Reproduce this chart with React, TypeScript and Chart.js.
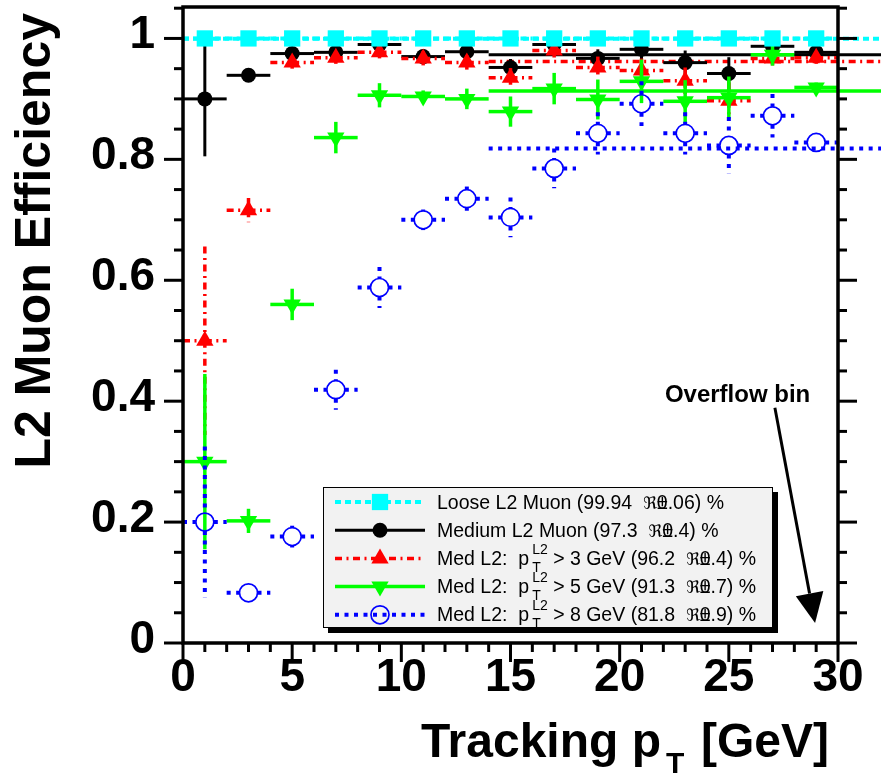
import React, { useEffect, useRef } from 'react';
import { Chart, registerables } from 'chart.js';

Chart.register(...registerables);

const FONT = '"Liberation Sans", Arial, Helvetica, sans-serif';
const SYMFONT = '"DejaVu Sans", "DejaVu Serif", sans-serif';

// ---------------- data ----------------
const binCenters = [1, 3, 5, 7, 9, 11, 13, 15, 17, 19, 21, 23, 25, 27, 29];
const binHalfWidth = 1;

const looseEff = [1.0, 1.0, 1.0, 1.0, 1.0, 1.0, 1.0, 1.0, 1.0, 1.0, 1.0, 1.0, 1.0, 1.0, 1.0];
const looseErr = [0.003, 0.001, 0.001, 0.001, 0.001, 0.001, 0.001, 0.001, 0.001, 0.001, 0.001, 0.001, 0.001, 0.001, 0.001];

const mediumEff = [0.900, 0.939, 0.975, 0.977, 0.990, 0.970, 0.978, 0.952, 0.990, 0.967, 0.982, 0.960, 0.942, 0.987, 0.977];
const mediumErr = [0.095, 0.008, 0.008, 0.010, 0.010, 0.012, 0.012, 0.014, 0.015, 0.015, 0.018, 0.020, 0.027, 0.015, 0.010];

const pt3Eff = [0.500, 0.716, 0.960, 0.968, 0.977, 0.967, 0.960, 0.935, 0.980, 0.952, 0.947, 0.930, 0.897, 0.967, 0.968];
const pt3Err = [0.156, 0.020, 0.010, 0.010, 0.010, 0.012, 0.012, 0.016, 0.015, 0.018, 0.020, 0.022, 0.030, 0.015, 0.010];

const pt5Eff = [0.300, 0.202, 0.560, 0.836, 0.906, 0.904, 0.900, 0.879, 0.917, 0.899, 0.929, 0.896, 0.902, 0.973, 0.919];
const pt5Err = [0.145, 0.020, 0.026, 0.026, 0.020, 0.010, 0.017, 0.025, 0.026, 0.033, 0.036, 0.035, 0.035, 0.018, 0.008];

const pt8Eff = [0.200, 0.083, 0.176, 0.419, 0.588, 0.700, 0.735, 0.704, 0.785, 0.843, 0.892, 0.843, 0.823, 0.872, 0.828];
const pt8Err = [0.125, 0.008, 0.018, 0.033, 0.034, 0.017, 0.020, 0.033, 0.033, 0.035, 0.037, 0.035, 0.047, 0.036, 0.010];

// constant fits (value, range)
const fitValues = [0.9994, 0.973, 0.962, 0.913, 0.818];
const fitFrom = [0, 14, 14, 14, 14];
const fitTo = [32, 32, 32, 32, 32];

const xTickValues = [0, 5, 10, 15, 20, 25, 30];
const xTickLabels = ['0', '5', '10', '15', '20', '25', '30'];
const yTickValues = [0, 0.2, 0.4, 0.6, 0.8, 1];
const yTickLabels = ['0', '0.2', '0.4', '0.6', '0.8', '1'];

const xTitleMain = 'Tracking p';
const xTitleSub = 'T';
const xTitleUnit = '[GeV]';
const yTitle = 'L2 Muon Efficiency';

const legendName = ['Loose L2 Muon', 'Medium L2 Muon', 'Med L2:  p', 'Med L2:  p', 'Med L2:  p'];
const legendCut = ['', '', ' > 3 GeV', ' > 5 GeV', ' > 8 GeV'];
const legendMean = ['99.94', '97.3', '96.2', '91.3', '81.8'];
const legendErr = ['0.06', '0.4', '0.4', '0.7', '0.9'];
const overflowLabel = 'Overflow bin';

// ---------------- styles ----------------
const seriesEff = [looseEff, mediumEff, pt3Eff, pt5Eff, pt8Eff];
const seriesErr = [looseErr, mediumErr, pt3Err, pt5Err, pt8Err];
const styles = [
  { color: '#00ffff', dash: [6, 4], lw: 4, pointStyle: 'rect', radius: 11.5, rotation: 0, filled: true, order: 1 },
  { color: '#000000', dash: [], lw: 3, pointStyle: 'circle', radius: 7.5, rotation: 0, filled: true, order: 5 },
  { color: '#ff0000', dash: [7, 4.5, 2, 4.5], lw: 3.5, pointStyle: 'triangle', radius: 10, rotation: 0, filled: true, order: 4 },
  { color: '#00ff00', dash: [], lw: 3.5, pointStyle: 'triangle', radius: 10, rotation: 180, filled: true, order: 3 },
  { color: '#0000ff', dash: [4, 5.5], lw: 4, pointStyle: 'circle', radius: 9, rotation: 0, filled: false, order: 2 },
];

function seg(ctx: CanvasRenderingContext2D, x0: number, y0: number, x1: number, y1: number) {
  if (Math.hypot(x1 - x0, y1 - y0) < 0.5) return;
  ctx.beginPath();
  ctx.moveTo(x0, y0);
  ctx.lineTo(x1, y1);
  ctx.stroke();
}

function drawMarker(ctx: CanvasRenderingContext2D, k: number, x: number, y: number) {
  const s = styles[k];
  ctx.save();
  ctx.setLineDash([]);
  ctx.fillStyle = s.color;
  ctx.strokeStyle = s.color;
  ctx.beginPath();
  if (s.pointStyle === 'rect') {
    const h = s.radius * Math.SQRT1_2;
    ctx.rect(x - h, y - h, 2 * h, 2 * h);
    ctx.fill();
  } else if (s.pointStyle === 'circle') {
    ctx.arc(x, y, s.radius, 0, Math.PI * 2);
    if (s.filled) ctx.fill();
    else { ctx.lineWidth = 1.7; ctx.stroke(); }
  } else {
    const r = s.radius;
    const sgn = s.rotation === 180 ? -1 : 1;
    ctx.moveTo(x, y - sgn * r);
    ctx.lineTo(x + r * 0.866, y + sgn * r / 2);
    ctx.lineTo(x - r * 0.866, y + sgn * r / 2);
    ctx.closePath();
    ctx.fill();
  }
  ctx.restore();
}

const rootPlugin = {
  id: 'rootStyle',
  beforeDatasetDraw(chart: any, args: any) {
    const ds = chart.data.datasets[args.index];
    if (ds.styleIdx === undefined || ds.isFit) return;
    const k = ds.styleIdx;
    const s = styles[k];
    const xs = chart.scales.x;
    const ys = chart.scales.y;
    const ctx: CanvasRenderingContext2D = chart.ctx;
    ctx.save();
    ctx.strokeStyle = s.color;
    ctx.lineWidth = s.lw;
    ctx.setLineDash(s.dash);
    ctx.lineCap = 'butt';
    const gap = s.filled ? 0 : s.radius;
    binCenters.forEach((c, i) => {
      const v = seriesEff[k][i];
      const e = seriesErr[k][i];
      const px = xs.getPixelForValue(c);
      const py = ys.getPixelForValue(v);
      const x0 = xs.getPixelForValue(c - binHalfWidth);
      const x1 = xs.getPixelForValue(c + binHalfWidth);
      const yT = ys.getPixelForValue(v + e);
      const yB = ys.getPixelForValue(v - e);
      seg(ctx, x0, py, px - gap, py);
      seg(ctx, px + gap, py, x1, py);
      if (py - yT > gap) seg(ctx, px, yT, px, py - gap);
      if (yB - py > gap) seg(ctx, px, py + gap, px, yB);
    });
    ctx.restore();
  },
  afterDraw(chart: any) {
    const ctx: CanvasRenderingContext2D = chart.ctx;
    const xs = chart.scales.x;
    const ys = chart.scales.y;
    const { left, right, top, bottom } = chart.chartArea;
    ctx.save();
    ctx.setLineDash([]);
    ctx.strokeStyle = '#000';
    ctx.fillStyle = '#000';

    // frame
    ctx.lineWidth = 3.5;
    ctx.beginPath();
    ctx.moveTo(left, top);
    ctx.lineTo(right, top);
    ctx.lineTo(right, bottom);
    ctx.lineTo(left, bottom);
    ctx.closePath();
    ctx.stroke();

    // y ticks (left + right, outside)
    ctx.lineWidth = 3;
    for (let k = 0; k <= 21; k++) {
      const v = k * 0.05;
      if (v > ys.max + 1e-9) break;
      const major = k % 4 === 0;
      const len = major ? 19 : 9;
      const py = ys.getPixelForValue(v);
      seg(ctx, left - len, py, left, py);
      seg(ctx, right, py, right + len, py);
    }
    // x ticks (bottom, outside)
    for (let k = 0; k <= 30; k++) {
      const major = k % 5 === 0;
      const len = major ? 19 : 9;
      const px = xs.getPixelForValue(k);
      seg(ctx, px, bottom, px, bottom + len);
    }

    // x title: "Tracking p" ends ~660, subscript T at ~666, "[GeV]" right-aligned at 829
    ctx.textBaseline = 'alphabetic';
    const base = 757;
    ctx.font = `bold 48px ${FONT}`;
    ctx.textAlign = 'right';
    ctx.fillText(xTitleMain, 661, base);
    ctx.fillText(xTitleUnit, 829, base);
    ctx.font = `bold 30px ${FONT}`;
    ctx.textAlign = 'left';
    ctx.fillText(xTitleSub, 666, base + 16);

    // y title
    ctx.save();
    ctx.translate(50, 13);
    ctx.rotate(-Math.PI / 2);
    ctx.font = `bold 50px ${FONT}`;
    ctx.textAlign = 'right';
    ctx.fillText(yTitle, 0, 0);
    ctx.restore();

    // legend
    const LX = 323, LY = 487, LW = 450, LH = 141;
    ctx.fillStyle = '#000';
    ctx.fillRect(LX + 5, LY + 5, LW, LH);
    ctx.fillStyle = '#f2f2f2';
    ctx.fillRect(LX, LY, LW, LH);
    ctx.lineWidth = 1;
    ctx.strokeStyle = '#000';
    ctx.strokeRect(LX + 0.5, LY + 0.5, LW - 1, LH - 1);
    const legMain = `19.5px ${FONT}`;
    const legSmall = `14px ${FONT}`;
    const legSym = `17px ${SYMFONT}`;
    for (let k = 0; k < 5; k++) {
      const s = styles[k];
      const cy = 502 + k * 28.2;
      ctx.save();
      ctx.strokeStyle = s.color;
      ctx.lineWidth = s.lw;
      ctx.setLineDash(s.dash);
      seg(ctx, 335, cy, 425, cy);
      ctx.restore();
      drawMarker(ctx, k, 380, cy);

      ctx.fillStyle = '#000';
      ctx.textAlign = 'left';
      const b = cy + 6.5;
      let x = 437;
      const put = (str: string, font: string, dy = 0) => {
        ctx.font = font;
        ctx.fillText(str, x, b + dy);
        x += ctx.measureText(str).width;
      };
      put(legendName[k], legMain);
      if (legendCut[k]) {
        ctx.font = legSmall;
        const wSup = ctx.measureText('L2').width;
        const wSub = ctx.measureText('T').width;
        ctx.fillText('L2', x + 3, b - 11);
        ctx.fillText('T', x + 3, b + 7);
        x += Math.max(wSup, wSub) + 3;
        put(legendCut[k], legMain);
      }
      put(' (' + legendMean[k] + '  ', legMain);
      put('\u211C', legSym);
      const first = legendErr[k].charAt(0);
      ctx.font = legMain;
      const w0 = ctx.measureText(first).width;
      ctx.fillText(first, x, b);
      const wpm = ctx.measureText('\u00B1').width;
      ctx.fillText('\u00B1', x + (w0 - wpm) / 2, b);
      x += w0;
      put(legendErr[k].slice(1) + ') %', legMain);
    }

    // overflow annotation
    ctx.fillStyle = '#000';
    ctx.strokeStyle = '#000';
    ctx.font = `bold 24px ${FONT}`;
    ctx.textAlign = 'center';
    ctx.textBaseline = 'middle';
    ctx.fillText(overflowLabel, xs.getPixelForValue(25.4), ys.getPixelForValue(0.41));
    const ax0 = xs.getPixelForValue(27.11), ay0 = ys.getPixelForValue(0.389);
    const ax1 = xs.getPixelForValue(28.95), ay1 = ys.getPixelForValue(0.033);
    const ang = Math.atan2(ay1 - ay0, ax1 - ax0);
    const hl = 30, hw = 14;
    const bx = ax1 - hl * Math.cos(ang), by = ay1 - hl * Math.sin(ang);
    ctx.lineWidth = 3;
    seg(ctx, ax0, ay0, bx, by);
    ctx.beginPath();
    ctx.moveTo(ax1, ay1);
    ctx.lineTo(bx + hw * Math.sin(ang), by - hw * Math.cos(ang));
    ctx.lineTo(bx - hw * Math.sin(ang), by + hw * Math.cos(ang));
    ctx.closePath();
    ctx.fill();

    ctx.restore();
  },
};

function labelFor(values: number[], labels: string[], v: number) {
  for (let i = 0; i < values.length; i++) if (Math.abs(values[i] - v) < 1e-6) return labels[i];
  return '';
}

function zeroPad(s: any) {
  s.paddingTop = 0;
  s.paddingBottom = 0;
  s.paddingLeft = 0;
  s.paddingRight = 0;
}

export default function App() {
  const ref = useRef<HTMLCanvasElement>(null);
  useEffect(() => {
    const canvas = ref.current;
    if (!canvas) return;
    const datasets: any[] = [];
    fitValues.forEach((fv, k) => {
      const s = styles[k];
      datasets.push({
        type: 'scatter',
        label: 'fit ' + k,
        isFit: true,
        styleIdx: k,
        data: [{ x: fitFrom[k], y: fv }, { x: fitTo[k], y: fv }],
        showLine: true,
        borderColor: s.color,
        borderWidth: s.lw,
        borderDash: s.dash,
        pointRadius: 0,
        fill: false,
        order: 10,
        clip: false,
      });
    });
    styles.forEach((s, k) => {
      datasets.push({
        type: 'scatter',
        label: legendName[k],
        styleIdx: k,
        data: binCenters.map((x, i) => ({ x, y: seriesEff[k][i] })),
        showLine: false,
        pointStyle: s.pointStyle,
        pointRadius: s.radius,
        pointRotation: s.rotation,
        pointBackgroundColor: s.filled ? s.color : 'rgba(0,0,0,0)',
        pointBorderColor: s.color,
        pointBorderWidth: s.filled ? 0 : 1.7,
        order: s.order,
        clip: false,
      });
    });

    const tickFont = { family: FONT, size: 46, weight: 'bold' as const };
    const chart = new Chart(canvas, {
      type: 'scatter',
      data: { datasets },
      options: {
        responsive: false,
        animation: false,
        devicePixelRatio: 1,
        events: [],
        layout: { padding: { left: 0, right: 43, top: 7, bottom: 0 }, autoPadding: false },
        plugins: { legend: { display: false }, tooltip: { enabled: false } },
        scales: {
          x: {
            type: 'linear',
            position: 'bottom',
            min: 0,
            max: 30,
            grid: { display: false, drawTicks: false },
            border: { display: false },
            ticks: {
              stepSize: 5,
              autoSkip: false,
              maxRotation: 0,
              minRotation: 0,
              padding: 8,
              color: '#000',
              font: tickFont,
              callback: (v: any) => labelFor(xTickValues, xTickLabels, Number(v)),
            },
            afterFit: (s: any) => { s.height = 133; zeroPad(s); },
          },
          y: {
            type: 'linear',
            position: 'left',
            min: 0,
            max: 1.052,
            grid: { display: false, drawTicks: false },
            border: { display: false },
            ticks: {
              stepSize: 0.2,
              includeBounds: false,
              autoSkip: false,
              padding: 28,
              labelOffset: -3,
              color: '#000',
              font: tickFont,
              callback: (v: any) => labelFor(yTickValues, yTickLabels, Number(v)),
            },
            afterFit: (s: any) => { s.width = 183; zeroPad(s); },
          },
        },
      } as any,
      plugins: [rootPlugin],
    });
    return () => chart.destroy();
  }, []);
  return (
    <div style={{ position: 'absolute', left: 0, top: 0, width: 881, height: 776, background: '#fff' }}>
      <canvas ref={ref} width={881} height={776} style={{ width: 881, height: 776, display: 'block' }} />
    </div>
  );
}
